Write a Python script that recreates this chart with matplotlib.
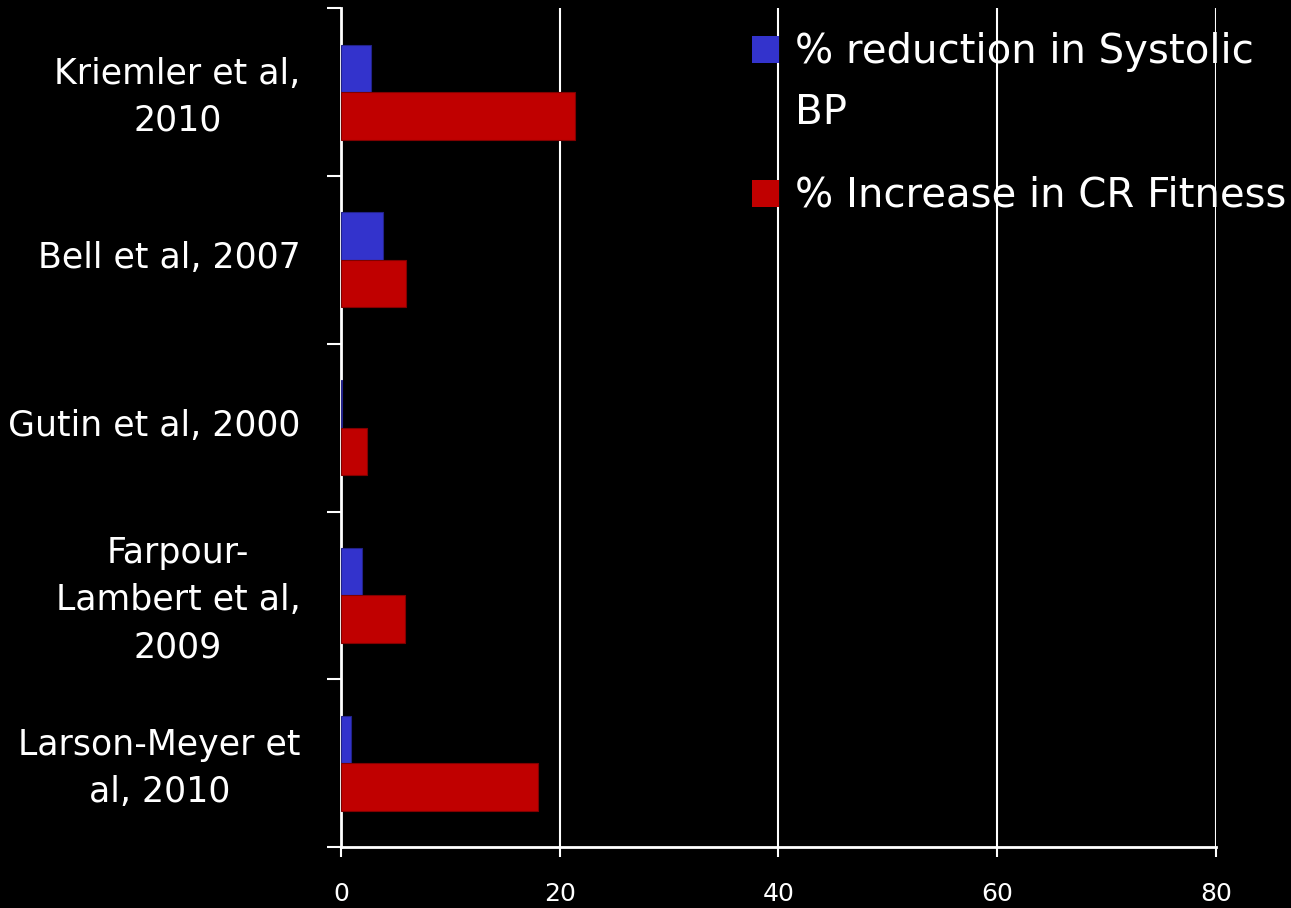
import matplotlib.pyplot as plt
import matplotlib.transforms as mtransforms
from matplotlib.patches import Rectangle
import numpy as np

# Study labels (top to bottom) and their outcomes
studies = ['Kriemler et al,\n2010', 'Bell et al, 2007', 'Gutin et al, 2000',
           'Farpour-\nLambert et al,\n2009', 'Larson-Meyer et\nal, 2010']
sbp_reduction = [2.8, 3.9, 0.1, 1.9, 0.9]
cr_fitness = [21.4, 6.0, 2.4, 5.9, 18.0]
series_labels = ['% reduction in Systolic\nBP', '% Increase in CR Fitness']
series_colors = ['#3333CC', '#C00000']
xticks = [0, 20, 40, 60, 80]

plt.rcParams['font.family'] = ['DejaVu Sans']

fig = plt.figure(figsize=(12.91, 9.08), dpi=100, facecolor='black')
ax = fig.add_axes([0.264, 0.067, 0.678, 0.924])
ax.set_facecolor('black')

y = np.arange(len(studies))
h = 0.283
ax.barh(y - h / 2, sbp_reduction, height=h, color=series_colors[0],
        edgecolor='#222288', linewidth=0.8, zorder=3)
ax.barh(y + h / 2, cr_fitness, height=h, color=series_colors[1],
        edgecolor='#800000', linewidth=0.8, zorder=3)

ax.set_ylim(len(studies) - 0.5, -0.5)
ax.set_xlim(0, 80)

# category labels, with boundary ticks between them
ax.set_yticks(y)
ax.set_yticklabels(studies, color='white', fontsize=25, ha='right', ma='center',
                   linespacing=1.48)
ax.tick_params(axis='y', length=0, pad=29)
nudge = mtransforms.ScaledTranslation(0, 5 / 100, fig.dpi_scale_trans)
for lbl in ax.get_yticklabels():
    lbl.set_transform(lbl.get_transform() + nudge)
ax.set_yticks(np.arange(len(studies) + 1) - 0.5, minor=True)
ax.tick_params(axis='y', which='minor', length=10, width=1.5, color='white',
               direction='out')

ax.set_xticks(xticks)
ax.set_xticklabels([str(v) for v in xticks], color='white', fontsize=18)
ax.tick_params(axis='x', length=7, width=1.5, color='white', pad=18)
ax.xaxis.grid(True, color='white', linewidth=1.5, zorder=0)

for side in ['top', 'right']:
    ax.spines[side].set_visible(False)
for side in ['left', 'bottom']:
    ax.spines[side].set_color('white')
    ax.spines[side].set_linewidth(2)
ax.spines['bottom'].set_bounds(0, 80)

# legend: square key next to the first line of each label
key_w, key_h = 0.031, 0.032
for (label, color, key_y, text_y) in zip(series_labels, series_colors,
                                         [0.9344, 0.7628], [0.9714, 0.801]):
    ax.add_patch(Rectangle((0.4697, key_y), key_w, key_h, transform=ax.transAxes,
                           facecolor=color, edgecolor='none', clip_on=False,
                           zorder=4))
    ax.text(0.5189, text_y, label, transform=ax.transAxes, color='white',
            fontsize=29, ha='left', va='top', linespacing=1.68, zorder=4)

fig.savefig('out.png', dpi=100, facecolor='black')
